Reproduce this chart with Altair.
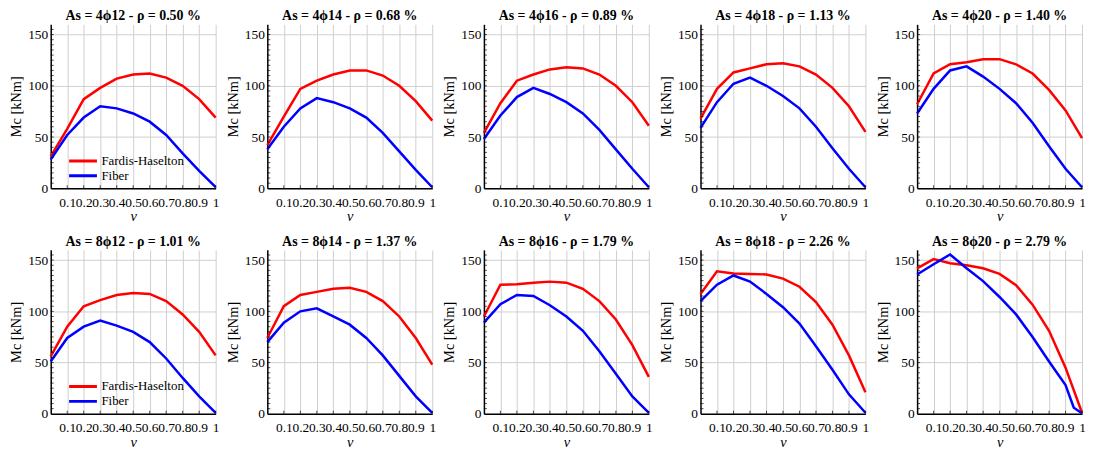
import altair as alt
import pandas as pd

FONT = "Liberation Serif"

nu = [0.0, 0.1, 0.2, 0.3, 0.4, 0.5, 0.6, 0.7, 0.8, 0.9, 1.0]
nu_fine_end = [0.0, 0.1, 0.2, 0.3, 0.4, 0.5, 0.6, 0.7, 0.8, 0.9, 0.95, 1.0]
x_ticks = [0.1, 0.2, 0.3, 0.4, 0.5, 0.6, 0.7, 0.8, 0.9, 1.0]
y_ticks = [0, 50, 100, 150]
y_minor = [5, 10, 15, 20, 25, 30, 35, 40, 45, 50, 55, 60, 65, 70, 75, 80, 85, 90,
           95, 100, 105, 110, 115, 120, 125, 130, 135, 140, 145, 150, 155]
models = ["Fardis-Haselton", "Fiber"]
colors = ["#ff0000", "#0000ff"]

titles = [
    "As = 4ϕ12 - ρ = 0.50 %", "As = 4ϕ14 - ρ = 0.68 %", "As = 4ϕ16 - ρ = 0.89 %",
    "As = 4ϕ18 - ρ = 1.13 %", "As = 4ϕ20 - ρ = 1.40 %",
    "As = 8ϕ12 - ρ = 1.01 %", "As = 8ϕ14 - ρ = 1.37 %", "As = 8ϕ16 - ρ = 1.79 %",
    "As = 8ϕ18 - ρ = 2.26 %", "As = 8ϕ20 - ρ = 2.79 %",
]

# Fardis-Haselton (red) and Fiber (blue) moment capacities [kNm]
fh_4p12 = [31, 58, 87, 98, 107, 111, 112, 108, 100, 87, 69]
fib_4p12 = [28, 52, 69, 80, 78, 73, 65, 52, 34, 17, 1]
fh_4p14 = [42, 70, 97, 105, 111, 115, 115, 110, 100, 85, 66]
fib_4p14 = [38, 60, 78, 88, 84, 78, 69, 54, 36, 18, 1]
fh_4p16 = [54, 83, 105, 111, 116, 118, 117, 111, 100, 84, 61]
fib_4p16 = [48, 71, 89, 98, 92, 84, 73, 57, 38, 19, 1]
fh_4p18 = [68, 97, 113, 117, 121, 122, 119, 111, 98, 80, 55]
fib_4p18 = [59, 84, 102, 108, 100, 90, 78, 60, 39, 19, 1]
fh_4p20 = [82, 112, 121, 123, 126, 126, 121, 112, 96, 76, 49]
fib_4p20 = [73, 97, 115, 119, 109, 97, 83, 64, 41, 19, 1]
fh_8p12 = [56, 85, 105, 111, 116, 118, 117, 110, 97, 80, 57]
fib_8p12 = [51, 74, 85, 91, 86, 80, 70, 54, 35, 17, 1]
fh_8p14 = [74, 105, 116, 119, 122, 123, 119, 110, 95, 74, 48]
fib_8p14 = [70, 89, 100, 103, 95, 87, 74, 57, 37, 17, 1]
fh_8p16 = [95, 126, 126.5, 128, 129, 128, 122, 110, 92, 67, 36]
fib_8p16 = [89, 107, 116, 115, 106, 95, 81, 61, 39, 17, 1]
fh_8p18 = [117, 139, 137, 136.5, 136, 132, 124, 109, 87, 57, 21]
fib_8p18 = [110, 126, 135, 129, 117, 104, 88, 66, 43, 19, 1]
fh_8p20 = [142, 151, 147, 145, 142, 136.5, 125.5, 106.5, 81, 45, 1]
fib_8p20 = [136, 146, 155.5, 142, 129.5, 114, 97, 75, 51, 28, 6, 0.5]

panels = [
    (fh_4p12, fib_4p12, nu), (fh_4p14, fib_4p14, nu), (fh_4p16, fib_4p16, nu),
    (fh_4p18, fib_4p18, nu), (fh_4p20, fib_4p20, nu),
    (fh_8p12, fib_8p12, nu), (fh_8p14, fib_8p14, nu), (fh_8p16, fib_8p16, nu),
    (fh_8p18, fib_8p18, nu), (fh_8p20, fib_8p20, nu_fine_end),
]

x_scale = alt.Scale(domain=[0, 1], nice=False, zero=False)
y_scale = alt.Scale(domain=[0, 160], nice=False)
x_axis = alt.Axis(
    values=x_ticks, title="ν", titleFontStyle="italic",
    labelExpr="datum.value == 1 ? '1' : format(datum.value, '.1f')",
    labelOverlap=False, labelFlush=False, labelBound=False,
    labelPadding=7, titlePadding=1,
)
y_axis = alt.Axis(values=y_ticks, title="Mc [kNm]", labelPadding=3, titlePadding=4)

minor_y_df = pd.DataFrame({"nu": [0.0] * len(y_minor), "Mc": y_minor})
minor_x_df = pd.DataFrame({"nu": x_ticks, "Mc": [0.0] * len(x_ticks)})


def enc_x():
    return alt.X("nu:Q", scale=x_scale, axis=x_axis)


def enc_y():
    return alt.Y("Mc:Q", scale=y_scale, axis=y_axis)


def panel(title, fh, fib, fib_x, show_legend):
    df = pd.DataFrame({
        "nu": nu + fib_x,
        "Mc": fh + fib,
        "model": [models[0]] * len(fh) + [models[1]] * len(fib),
    })
    if show_legend:
        legend = alt.Legend(
            orient="none", legendX=17, legendY=131, title=None,
            symbolType="stroke", symbolSize=784, symbolStrokeWidth=3,
            labelFont=FONT, labelFontSize=13, labelColor="black",
            clipHeight=13, rowPadding=1, padding=0, labelOffset=3,
        )
    else:
        legend = None
    lines = alt.Chart(df).mark_line(strokeWidth=2.5).encode(
        x=enc_x(),
        y=enc_y(),
        color=alt.Color("model:N", scale=alt.Scale(domain=models, range=colors), legend=legend),
    )
    ytick = alt.Chart(minor_y_df).mark_tick(
        orient="horizontal", size=3, thickness=1, color="black", xOffset=1.5
    ).encode(x=enc_x(), y=enc_y())
    xtick = alt.Chart(minor_x_df).mark_tick(
        orient="vertical", size=3, thickness=1, color="black", yOffset=-1.5
    ).encode(x=enc_x(), y=enc_y())
    return alt.layer(lines, ytick, xtick).properties(
        width=166, height=165,
        title=alt.TitleParams(title, font=FONT, fontSize=14, fontWeight="bold",
                              frame="group", offset=1, color="black"),
    )


charts = []
for i, (fh, fib, fx) in enumerate(panels):
    charts.append(panel(titles[i], fh, fib, fx, i % 5 == 0))

chart = alt.concat(
    *charts, columns=5, spacing=alt.RowColnumber(row=62, column=52), bounds="flush"
).resolve_scale(
    color="independent"
).resolve_legend(
    color="independent"
).properties(
    padding={"left": 0, "top": 0, "right": 0, "bottom": 0}
).configure(
    font=FONT,
).configure_view(
    stroke=None,
).configure_axis(
    labelFont=FONT, titleFont=FONT, labelFontSize=13.5, titleFontSize=14.5,
    titleFontWeight="normal", labelColor="black", titleColor="black",
    domainColor="black", domainWidth=1.5, gridColor="#cfcfcf", gridWidth=1,
    ticks=False,
)

chart.save("out.html", embed_options={"renderer": "svg", "actions": False})
